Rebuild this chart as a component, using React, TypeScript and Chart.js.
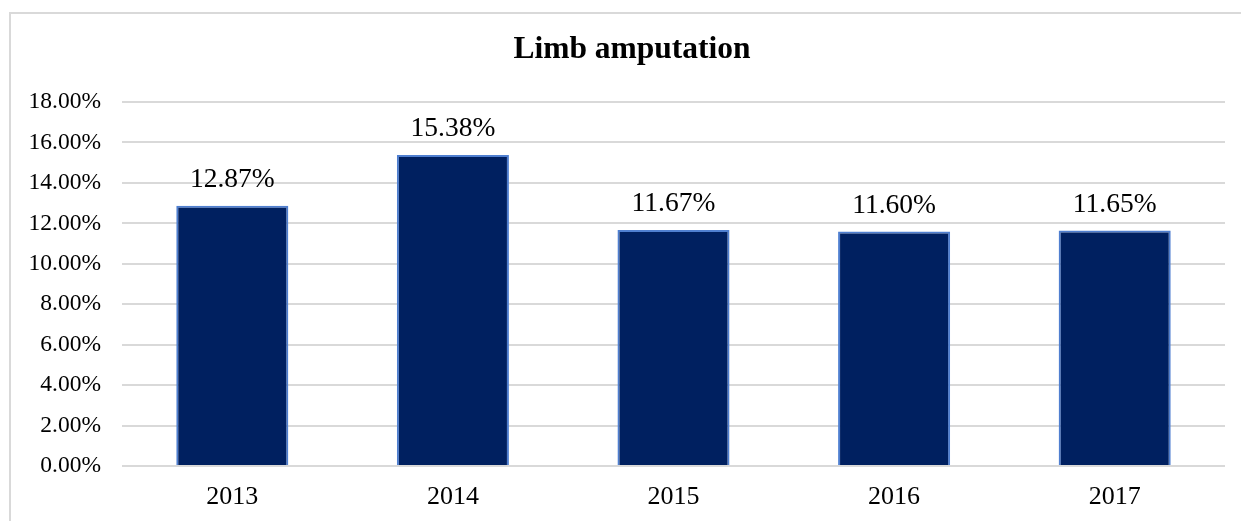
import React, { useEffect, useRef } from "react";
import { Chart, registerables } from "chart.js";

Chart.register(...registerables);

const categories: string[] = ["2013", "2014", "2015", "2016", "2017"];
const values: number[] = [12.87, 15.38, 11.67, 11.6, 11.65];
const valueLabels: string[] = ["12.87%", "15.38%", "11.67%", "11.60%", "11.65%"];
const yMin = 0;
const yMax = 18;
const yStep = 2;
const titleText = "Limb amputation";

const SERIF = "'Liberation Serif', 'Times New Roman', serif";

export default function App() {
  const ref = useRef<HTMLCanvasElement | null>(null);

  useEffect(() => {
    if (!ref.current) return;
    const labelPlugin = {
      id: "labelsAndTitle",
      afterDatasetsDraw(chart: any) {
        const ctx = chart.ctx;
        const meta = chart.getDatasetMeta(0);
        ctx.save();
        ctx.fillStyle = "#000";
        ctx.font = `27.5px ${SERIF}`;
        ctx.textAlign = "center";
        ctx.textBaseline = "middle";
        meta.data.forEach((bar: any, i: number) => {
          ctx.fillText(valueLabels[i], bar.x, bar.y - 26);
        });
        ctx.font = `bold 31.5px ${SERIF}`;
        ctx.textBaseline = "alphabetic";
        ctx.fillText(titleText, chart.width / 2, 44);
        ctx.restore();
      },
    };
    const chart = new Chart(ref.current, {
      type: "bar",
      data: {
        labels: categories,
        datasets: [
          {
            data: values,
            backgroundColor: "#002060",
            borderColor: "#4F7FD0",
            borderWidth: 2,
            barPercentage: 0.508,
            categoryPercentage: 1,
          },
        ],
      },
      options: {
        responsive: false,
        animation: false,
        maintainAspectRatio: false,
        layout: { padding: { top: 88, right: 28, left: 0, bottom: 0 } },
        plugins: {
          legend: { display: false },
          title: { display: false },
          tooltip: { enabled: false },
        },
        scales: {
          x: {
            grid: { display: false, drawTicks: false },
            border: { display: false },
            ticks: {
              color: "#000",
              font: { family: SERIF, size: 26 },
              padding: 16,
            },
            afterFit(scale: any) {
              scale.height = 68;
            },
          },
          y: {
            min: yMin,
            max: yMax,
            grid: { color: "#d9d9d9", lineWidth: 2, drawTicks: false },
            border: { display: false },
            ticks: {
              stepSize: yStep,
              color: "#000",
              font: { family: SERIF, size: 23.5 },
              padding: 21,
              callback: (v: any) => Number(v).toFixed(2) + "%",
            },
            afterFit(scale: any) {
              scale.width = 111;
            },
          },
        },
      },
      plugins: [labelPlugin],
    });
    return () => chart.destroy();
  }, []);

  return (
    <div
      style={{
        position: "fixed",
        left: 0,
        top: 0,
        width: 1241,
        height: 521,
        overflow: "hidden",
        background: "#fff",
      }}
    >
      <div
        style={{
          position: "absolute",
          left: 9,
          top: 12,
          width: 1242,
          height: 520,
          borderLeft: "2px solid #d9d9d9",
          borderTop: "2px solid #d9d9d9",
          borderRight: "2px solid #d9d9d9",
          borderBottom: "2px solid #d9d9d9",
        }}
      >
        <canvas ref={ref} width={1242} height={520} style={{ display: "block" }} />
      </div>
    </div>
  );
}
